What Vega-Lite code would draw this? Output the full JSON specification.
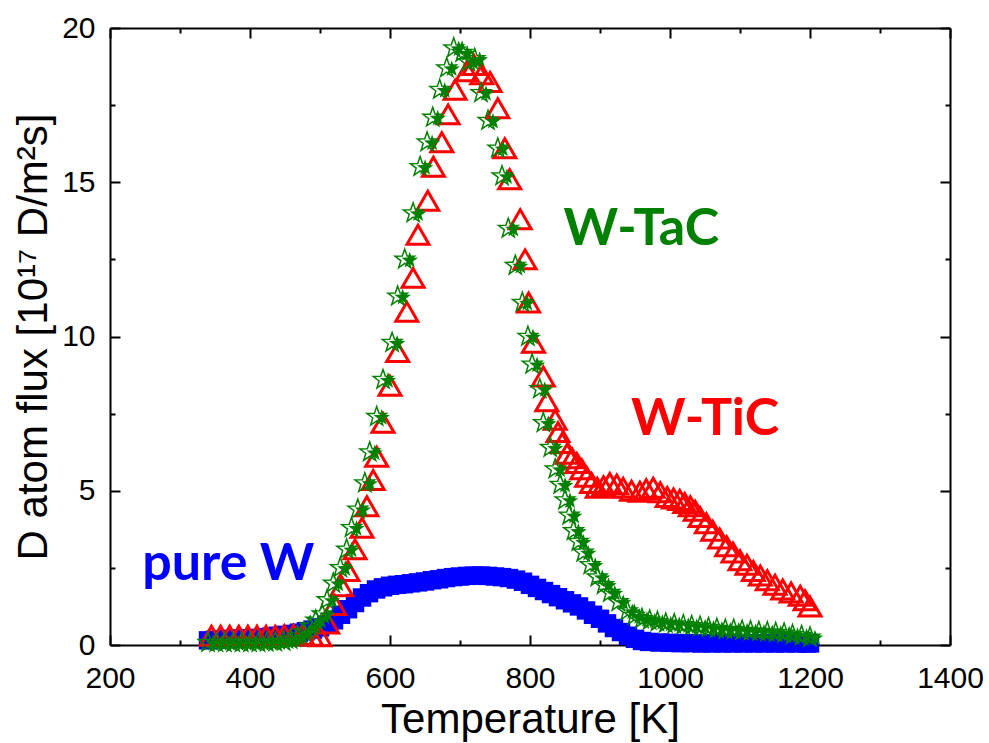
{
  "$schema": "https://vega.github.io/schema/vega-lite/v6.json",
  "width": 840,
  "height": 617,
  "autosize": {"type": "none"},
  "padding": {"left": 110, "top": 28, "right": 39, "bottom": 98},
  "background": "white",
  "config": {
    "view": {"stroke": null},
    "axis": {
      "grid": false,
      "tickColor": "black",
      "tickWidth": 2,
      "domainColor": "black",
      "domainWidth": 2,
      "labelColor": "black",
      "titleColor": "black",
      "labelFont": "Liberation Sans",
      "labelFontSize": 30,
      "titleFont": "Liberation Sans",
      "titleFontSize": 42,
      "titleFontWeight": "normal",
      "labelFlush": false,
      "labelOverlap": false,
      "format": "d"
    }
  },
  "datasets": {
    "pureW": [
      {"T": 340, "flux": 0.15}, {"T": 350, "flux": 0.17}, {"T": 360, "flux": 0.18}, {"T": 370, "flux": 0.2},
      {"T": 380, "flux": 0.2}, {"T": 390, "flux": 0.21}, {"T": 400, "flux": 0.22}, {"T": 410, "flux": 0.23},
      {"T": 420, "flux": 0.25}, {"T": 430, "flux": 0.27}, {"T": 440, "flux": 0.3}, {"T": 450, "flux": 0.33},
      {"T": 460, "flux": 0.36}, {"T": 470, "flux": 0.4}, {"T": 480, "flux": 0.45}, {"T": 490, "flux": 0.5},
      {"T": 500, "flux": 0.57}, {"T": 510, "flux": 0.66}, {"T": 520, "flux": 0.8}, {"T": 530, "flux": 0.98},
      {"T": 540, "flux": 1.16}, {"T": 550, "flux": 1.36}, {"T": 560, "flux": 1.54}, {"T": 570, "flux": 1.68},
      {"T": 580, "flux": 1.8}, {"T": 590, "flux": 1.87}, {"T": 600, "flux": 1.92}, {"T": 610, "flux": 1.95},
      {"T": 620, "flux": 1.97}, {"T": 630, "flux": 2.0}, {"T": 640, "flux": 2.03}, {"T": 650, "flux": 2.06},
      {"T": 660, "flux": 2.1}, {"T": 670, "flux": 2.13}, {"T": 680, "flux": 2.17}, {"T": 690, "flux": 2.2},
      {"T": 700, "flux": 2.22}, {"T": 710, "flux": 2.24}, {"T": 720, "flux": 2.25}, {"T": 730, "flux": 2.25},
      {"T": 740, "flux": 2.24}, {"T": 750, "flux": 2.22}, {"T": 760, "flux": 2.2}, {"T": 770, "flux": 2.17},
      {"T": 780, "flux": 2.12}, {"T": 790, "flux": 2.05}, {"T": 800, "flux": 1.95}, {"T": 810, "flux": 1.85},
      {"T": 820, "flux": 1.75}, {"T": 830, "flux": 1.65}, {"T": 840, "flux": 1.55}, {"T": 850, "flux": 1.45},
      {"T": 860, "flux": 1.35}, {"T": 870, "flux": 1.25}, {"T": 880, "flux": 1.12}, {"T": 890, "flux": 0.98},
      {"T": 900, "flux": 0.85}, {"T": 910, "flux": 0.7}, {"T": 920, "flux": 0.55}, {"T": 930, "flux": 0.42},
      {"T": 940, "flux": 0.3}, {"T": 950, "flux": 0.2}, {"T": 960, "flux": 0.13}, {"T": 970, "flux": 0.1},
      {"T": 985, "flux": 0.08}, {"T": 1000, "flux": 0.07}, {"T": 1015, "flux": 0.06}, {"T": 1030, "flux": 0.06},
      {"T": 1045, "flux": 0.05}, {"T": 1060, "flux": 0.05}, {"T": 1075, "flux": 0.05}, {"T": 1090, "flux": 0.05},
      {"T": 1105, "flux": 0.05}, {"T": 1120, "flux": 0.05}, {"T": 1135, "flux": 0.05}, {"T": 1150, "flux": 0.05},
      {"T": 1165, "flux": 0.05}, {"T": 1180, "flux": 0.05}, {"T": 1195, "flux": 0.05}, {"T": 1200, "flux": 0.05}
    ],
    "WTiC": [
      {"T": 345, "flux": 0.3}, {"T": 358, "flux": 0.3}, {"T": 371, "flux": 0.3}, {"T": 384, "flux": 0.3},
      {"T": 397, "flux": 0.3}, {"T": 410, "flux": 0.3}, {"T": 423, "flux": 0.3}, {"T": 436, "flux": 0.3},
      {"T": 449, "flux": 0.32}, {"T": 462, "flux": 0.33}, {"T": 475, "flux": 0.33}, {"T": 488, "flux": 0.3},
      {"T": 500, "flux": 0.28}, {"T": 511, "flux": 0.7}, {"T": 521, "flux": 1.3}, {"T": 531, "flux": 1.9},
      {"T": 540, "flux": 2.4}, {"T": 550, "flux": 3.1}, {"T": 560, "flux": 3.8}, {"T": 567, "flux": 4.5},
      {"T": 576, "flux": 5.35}, {"T": 581, "flux": 6.1}, {"T": 590, "flux": 7.2}, {"T": 600, "flux": 8.4},
      {"T": 611, "flux": 9.5}, {"T": 624, "flux": 10.8}, {"T": 633, "flux": 11.9}, {"T": 640, "flux": 13.3},
      {"T": 654, "flux": 14.4}, {"T": 662, "flux": 15.5}, {"T": 674, "flux": 16.3}, {"T": 683, "flux": 17.2},
      {"T": 693, "flux": 18.0}, {"T": 710, "flux": 18.6}, {"T": 720, "flux": 18.8}, {"T": 731, "flux": 18.5},
      {"T": 743, "flux": 18.25}, {"T": 754, "flux": 17.4}, {"T": 764, "flux": 16.1}, {"T": 771, "flux": 15.1},
      {"T": 786, "flux": 13.8}, {"T": 793, "flux": 12.5}, {"T": 798, "flux": 11.1}, {"T": 805, "flux": 9.8},
      {"T": 819, "flux": 8.7}, {"T": 824, "flux": 7.9}, {"T": 836, "flux": 7.3}, {"T": 840, "flux": 6.9},
      {"T": 846, "flux": 6.55}, {"T": 853, "flux": 6.2}, {"T": 860, "flux": 6.05}, {"T": 867, "flux": 5.9},
      {"T": 874, "flux": 5.7}, {"T": 881, "flux": 5.45}, {"T": 888, "flux": 5.25}, {"T": 896, "flux": 5.1},
      {"T": 905, "flux": 5.15}, {"T": 914, "flux": 5.25}, {"T": 924, "flux": 5.2}, {"T": 933, "flux": 5.1},
      {"T": 945, "flux": 5.0}, {"T": 957, "flux": 4.97}, {"T": 966, "flux": 5.05}, {"T": 976, "flux": 5.1},
      {"T": 986, "flux": 4.95}, {"T": 996, "flux": 4.8}, {"T": 1005, "flux": 4.75}, {"T": 1014, "flux": 4.7},
      {"T": 1021, "flux": 4.6}, {"T": 1029, "flux": 4.5}, {"T": 1036, "flux": 4.35}, {"T": 1043, "flux": 4.15},
      {"T": 1052, "flux": 3.95}, {"T": 1061, "flux": 3.7}, {"T": 1071, "flux": 3.45}, {"T": 1081, "flux": 3.2},
      {"T": 1090, "flux": 3.0}, {"T": 1100, "flux": 2.75}, {"T": 1110, "flux": 2.6}, {"T": 1119, "flux": 2.4},
      {"T": 1129, "flux": 2.25}, {"T": 1139, "flux": 2.1}, {"T": 1150, "flux": 1.95}, {"T": 1161, "flux": 1.8},
      {"T": 1173, "flux": 1.7}, {"T": 1186, "flux": 1.6}, {"T": 1193, "flux": 1.45}, {"T": 1200, "flux": 1.25}
    ],
    "WTaC": [
      {"T": 340, "flux": 0.08}, {"T": 352, "flux": 0.08}, {"T": 364, "flux": 0.08}, {"T": 376, "flux": 0.08},
      {"T": 388, "flux": 0.08}, {"T": 400, "flux": 0.08}, {"T": 412, "flux": 0.08}, {"T": 424, "flux": 0.09},
      {"T": 436, "flux": 0.1}, {"T": 448, "flux": 0.12}, {"T": 458, "flux": 0.18}, {"T": 468, "flux": 0.28},
      {"T": 477, "flux": 0.42}, {"T": 486, "flux": 0.6}, {"T": 494, "flux": 0.8}, {"T": 503, "flux": 1.0},
      {"T": 510, "flux": 1.46}, {"T": 519, "flux": 2.0}, {"T": 529, "flux": 2.5}, {"T": 538, "flux": 3.1},
      {"T": 545, "flux": 3.8}, {"T": 554, "flux": 4.4}, {"T": 564, "flux": 5.25}, {"T": 571, "flux": 6.25},
      {"T": 581, "flux": 7.4}, {"T": 590, "flux": 8.6}, {"T": 603, "flux": 9.8}, {"T": 611, "flux": 11.3},
      {"T": 621, "flux": 12.5}, {"T": 633, "flux": 14.0}, {"T": 643, "flux": 15.5}, {"T": 653, "flux": 16.3},
      {"T": 661, "flux": 17.1}, {"T": 671, "flux": 18.0}, {"T": 681, "flux": 18.7}, {"T": 691, "flux": 19.35},
      {"T": 703, "flux": 19.2}, {"T": 712, "flux": 18.9}, {"T": 721, "flux": 19.0}, {"T": 730, "flux": 17.9},
      {"T": 740, "flux": 17.0}, {"T": 754, "flux": 16.1}, {"T": 760, "flux": 15.2}, {"T": 769, "flux": 13.5},
      {"T": 779, "flux": 12.3}, {"T": 789, "flux": 11.1}, {"T": 797, "flux": 10.0}, {"T": 803, "flux": 9.1},
      {"T": 814, "flux": 8.3}, {"T": 819, "flux": 7.2}, {"T": 829, "flux": 6.4}, {"T": 836, "flux": 5.7},
      {"T": 843, "flux": 5.2}, {"T": 850, "flux": 4.7}, {"T": 856, "flux": 4.2}, {"T": 862, "flux": 3.7},
      {"T": 869, "flux": 3.35}, {"T": 876, "flux": 3.0}, {"T": 886, "flux": 2.6}, {"T": 896, "flux": 2.2},
      {"T": 905, "flux": 1.95}, {"T": 914, "flux": 1.7}, {"T": 926, "flux": 1.4}, {"T": 939, "flux": 1.1},
      {"T": 949, "flux": 0.95}, {"T": 960, "flux": 0.85}, {"T": 971, "flux": 0.8}, {"T": 982, "flux": 0.75},
      {"T": 994, "flux": 0.7}, {"T": 1006, "flux": 0.68}, {"T": 1019, "flux": 0.65}, {"T": 1031, "flux": 0.62},
      {"T": 1043, "flux": 0.6}, {"T": 1055, "flux": 0.56}, {"T": 1067, "flux": 0.53}, {"T": 1079, "flux": 0.5},
      {"T": 1091, "flux": 0.5}, {"T": 1103, "flux": 0.47}, {"T": 1115, "flux": 0.45}, {"T": 1127, "flux": 0.43},
      {"T": 1139, "flux": 0.42}, {"T": 1151, "flux": 0.4}, {"T": 1163, "flux": 0.38}, {"T": 1175, "flux": 0.33},
      {"T": 1188, "flux": 0.3}, {"T": 1200, "flux": 0.25}
    ],
    "labels": [
      {"label": "pure W", "T": 369, "flux": 2.1},
      {"label": "W-TaC", "T": 959, "flux": 12.97},
      {"label": "W-TiC", "T": 1050, "flux": 6.8}
    ]
  },
  "resolve": {"axis": {"x": "independent", "y": "independent"}},
  "layer": [
    {
      "data": {"name": "pureW"},
      "mark": {"type": "square", "size": 340, "color": "#0000ff", "opacity": 1, "filled": true},
      "encoding": {
        "x": {"field": "T", "type": "quantitative",
              "scale": {"domain": [200, 1400], "nice": false, "zero": false},
              "axis": {"orient": "bottom", "values": [200, 400, 600, 800, 1000, 1200, 1400], "tickSize": -10, "labelPadding": 28, "title": "Temperature [K]", "titlePadding": 6}},
        "y": {"field": "flux", "type": "quantitative",
              "scale": {"domain": [0, 20], "nice": false, "zero": false},
              "axis": {"orient": "left", "values": [0, 5, 10, 15, 20], "tickSize": -10, "labelPadding": 25, "title": "D atom flux [10¹⁷ D/m²s]", "titlePadding": 6}}
      }
    },
    {
      "data": {"name": "WTiC"},
      "mark": {"type": "point", "shape": "triangle-up", "size": 480, "stroke": "#ff0000", "strokeWidth": 3, "filled": false, "opacity": 1},
      "encoding": {
        "x": {"field": "T", "type": "quantitative",
              "axis": {"orient": "bottom", "values": [300, 500, 700, 900, 1100, 1300], "tickSize": -5, "labels": false, "domain": false, "title": null}},
        "y": {"field": "flux", "type": "quantitative",
              "axis": {"orient": "left", "values": [2.5, 7.5, 12.5, 17.5], "tickSize": -5, "labels": false, "domain": false, "title": null}}
      }
    },
    {
      "data": {"name": "WTaC"},
      "mark": {"type": "point", "shape": "M0,-1L0.235,-0.324L0.951,-0.309L0.38,0.124L0.588,0.809L0,0.4L-0.588,0.809L-0.38,0.124L-0.951,-0.309L-0.235,-0.324Z", "size": 420, "stroke": "#008000", "strokeWidth": 1.5, "filled": false, "opacity": 1},
      "encoding": {
        "x": {"field": "T", "type": "quantitative",
              "axis": {"orient": "top", "values": [200, 400, 600, 800, 1000, 1200, 1400], "tickSize": -10, "labels": false, "title": null}},
        "y": {"field": "flux", "type": "quantitative",
              "axis": {"orient": "right", "values": [0, 5, 10, 15, 20], "tickSize": -10, "labels": false, "title": null}}
      }
    },
    {
      "data": {"name": "WTaC"},
      "mark": {"type": "point", "shape": "M0,-1L0.235,-0.324L0.951,-0.309L0.38,0.124L0.588,0.809L0,0.4L-0.588,0.809L-0.38,0.124L-0.951,-0.309L-0.235,-0.324Z", "size": 300, "fill": "#008000", "filled": true, "opacity": 1, "xOffset": 5, "yOffset": 1},
      "encoding": {
        "x": {"field": "T", "type": "quantitative",
              "axis": {"orient": "top", "values": [300, 500, 700, 900, 1100, 1300], "tickSize": -5, "labels": false, "domain": false, "title": null}},
        "y": {"field": "flux", "type": "quantitative",
              "axis": {"orient": "right", "values": [2.5, 7.5, 12.5, 17.5], "tickSize": -5, "labels": false, "domain": false, "title": null}}
      }
    },
    {
      "data": {"name": "labels"},
      "mark": {"type": "text", "font": "Lato", "fontWeight": "bold", "fontSize": 52, "align": "center", "baseline": "alphabetic"},
      "encoding": {
        "x": {"field": "T", "type": "quantitative", "axis": null},
        "y": {"field": "flux", "type": "quantitative", "axis": null},
        "text": {"field": "label"},
        "color": {"field": "label", "type": "nominal", "legend": null,
                  "scale": {"domain": ["pure W", "W-TaC", "W-TiC"], "range": ["#0000ff", "#008000", "#ff0000"]}}
      }
    }
  ]
}
